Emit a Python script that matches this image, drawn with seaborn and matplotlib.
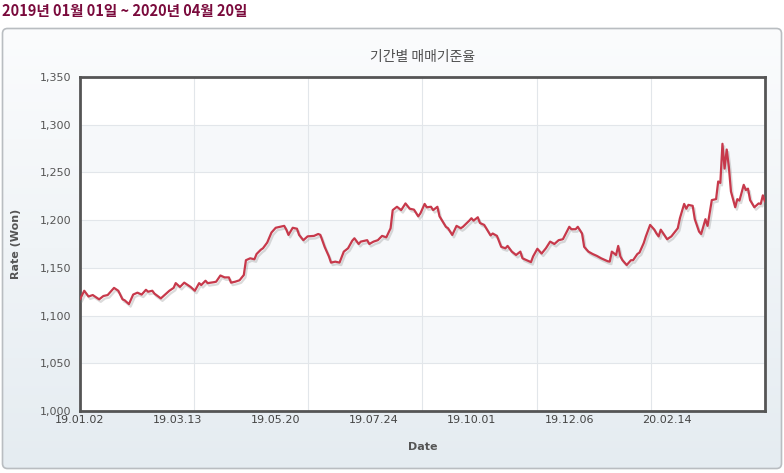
import numpy as np
import matplotlib
matplotlib.use("Agg")
import matplotlib.pyplot as plt
import matplotlib.patheffects as pe
from matplotlib.patches import FancyBboxPatch
from matplotlib.colors import LinearSegmentedColormap
import seaborn as sns

# trading-day index (0 = 2019-01-02) and won/dollar base rate
day_idx = [0, 2, 4, 6, 9, 11, 13, 16, 18, 20, 21, 23, 25, 27, 29, 31, 32, 34, 35, 38,
           39, 42, 44, 45, 47, 49, 52, 54, 56, 57, 59, 60, 63, 64, 66, 68, 70, 71, 73, 75,
           77, 78, 80, 82, 83, 85, 86, 88, 90, 92, 94, 96, 97, 98, 100, 102, 103, 105, 107, 110,
           112, 113, 115, 117, 118, 120, 122, 124, 126, 128, 129, 131, 132, 135, 136, 138, 140, 142, 144, 146,
           147, 149, 151, 153, 155, 157, 159, 160, 162, 163, 165, 166, 168, 169, 172, 173, 175, 177, 179, 180,
           183, 184, 185, 187, 188, 190, 193, 194, 196, 198, 200, 201, 203, 205, 207, 208, 210, 212, 213, 215,
           217, 219, 221, 223, 225, 227, 230, 231, 233, 234, 236, 237, 239, 241, 243, 245, 248, 249, 250, 252,
           253, 254, 255, 257, 259, 260, 262, 263, 265, 266, 268, 270, 271, 272, 273, 276, 278, 281, 282, 284,
           285, 286, 288, 289, 291, 292, 294, 295, 297, 299, 300, 301, 302, 303, 304, 305, 306, 308, 309, 310,
           312, 313, 314, 315, 317, 319, 320, 321, 322]
rate = [1117, 1126, 1120, 1121.5, 1117, 1120.5, 1121.5, 1129, 1126, 1117, 1116, 1112, 1122, 1124, 1122, 1127, 1125, 1126, 1123, 1118,
        1120, 1126, 1129, 1134, 1130, 1134.5, 1130, 1126, 1134, 1132, 1136.5, 1134, 1135, 1135.5, 1142, 1140, 1140, 1134.5, 1135.5, 1137,
        1142.5, 1158, 1160, 1159, 1164.5, 1169, 1170.5, 1176.5, 1187, 1192, 1193, 1194, 1190, 1184.5, 1192, 1191, 1184.5, 1179, 1183, 1183.5,
        1185.5, 1184.5, 1172, 1162, 1155.5, 1156.5, 1155.5, 1167, 1170.5, 1178.5, 1181, 1175, 1177.5, 1179, 1175, 1177.5, 1179, 1183.5, 1182, 1191.5,
        1210.5, 1214, 1210.5, 1217.5, 1212, 1211, 1204, 1207, 1217, 1213.5, 1214, 1210.5, 1214, 1204, 1193, 1191.5, 1184.5, 1194, 1191.5, 1193,
        1199.5, 1202, 1199.5, 1203, 1197, 1195, 1184, 1186, 1183.5, 1172, 1170.5, 1173, 1167, 1163.5, 1167, 1160, 1158, 1156, 1162, 1170,
        1165, 1170.5, 1177.5, 1175, 1179, 1180, 1193, 1190.5, 1190.5, 1193, 1186, 1172, 1167, 1164.5, 1162.5, 1160, 1157, 1156.5, 1167, 1163.5,
        1173, 1162, 1158, 1153, 1158, 1158, 1164.5, 1166, 1176, 1183, 1195, 1190, 1186, 1183, 1190, 1180, 1183, 1191.5, 1202, 1217,
        1212, 1216, 1215, 1201, 1188, 1185.5, 1201, 1194, 1221, 1222, 1240.5, 1239, 1280, 1254, 1274, 1256, 1230, 1213.5, 1222, 1220.5,
        1237, 1231.5, 1233, 1221, 1213.5, 1217.5, 1217, 1226, 1219.5]

n_days = 323
tick_idx = [0, 46, 92, 138, 184, 230, 276]
tick_labels = ["19.01.02", "19.03.13", "19.05.20", "19.07.24", "19.10.01", "19.12.06", "20.02.14"]
y_ticks = [1000, 1050, 1100, 1150, 1200, 1250, 1300, 1350]
band_lows = [1050, 1150, 1250]

header = "2019년 01월 01일 ~ 2020년 04월 20일"
title = "기간별 매매기준율"

sns.set_style("white")
plt.rcParams['font.family'] = ['Noto Sans CJK KR', 'DejaVu Sans']

W, H = 784, 473
fig = plt.figure(figsize=(W / 100, H / 100), dpi=100)

# panel background with soft vertical gradient
bg = fig.add_axes([0, 0, 1, 1], zorder=0)
bg.set_xlim(0, W)
bg.set_ylim(H, 0)
bg.axis('off')
box = FancyBboxPatch((2.5, 28.5), 779, 440, boxstyle='round,pad=0,rounding_size=5',
                     fc='none', ec='#b9bdc1', lw=1.2, zorder=3)
bg.add_patch(box)
grad = np.linspace(0, 1, 256).reshape(-1, 1)
cmap = LinearSegmentedColormap.from_list('panel', ['#fbfcfd', '#e5ecf1'])
im = bg.imshow(grad, extent=(2.5, 781.5, 468.5, 28.5), cmap=cmap, aspect='auto', zorder=1)
im.set_clip_path(box)

bg.text(2, 11, header, ha='left', va='center', fontsize=10.5, fontweight='bold', color='#7a0a3c')
bg.text(423, 57, title, ha='center', va='center', fontsize=10, color='#4f4f4f')

# main plot
ax = fig.add_axes([80 / W, 1 - 411 / H, 685 / W, 334 / H], zorder=2)
ax.set_facecolor('white')
for lo in band_lows:
    ax.axhspan(lo, lo + 50, color='#f6f8fa', lw=0, zorder=0)
for yv in y_ticks[1:-1]:
    ax.axhline(yv, color='#e2e6ea', lw=0.8, zorder=0.5)
for xv in np.linspace(0, n_days - 1, 7)[1:-1]:
    ax.axvline(xv, color='#e2e6ea', lw=0.8, zorder=0.5)

sns.lineplot(x=day_idx, y=rate, ax=ax, color='#c7394b', lw=1.6, zorder=3)
ax.lines[-1].set_path_effects([
    pe.SimpleLineShadow(offset=(1.2, -1.8), shadow_color='#888888', alpha=0.3),
    pe.Normal()])

ax.set_xlim(0, n_days - 1)
ax.set_ylim(1000, 1350)
ax.set_yticks(y_ticks, [f"{v:,}" for v in y_ticks])
ax.set_xticks(tick_idx, tick_labels)
ax.tick_params(axis='y', length=4, width=1, color='#555555', labelsize=8, labelcolor='#555555', pad=2)
ax.tick_params(axis='x', length=0, labelsize=8, labelcolor='#444444', pad=3)
for lab in ax.get_xticklabels() + ax.get_yticklabels():
    lab.set_family('DejaVu Sans')

for sp in ax.spines.values():
    sp.set_color('#555555')
    sp.set_linewidth(2)

ax.set_xlabel("Date", fontsize=8, fontweight='bold', color='#555555', labelpad=12, family='DejaVu Sans')
ax.set_ylabel("Rate (Won)", fontsize=8, fontweight='bold', color='#555555', labelpad=14, family='DejaVu Sans')

fig.savefig("out.png", dpi=100)
